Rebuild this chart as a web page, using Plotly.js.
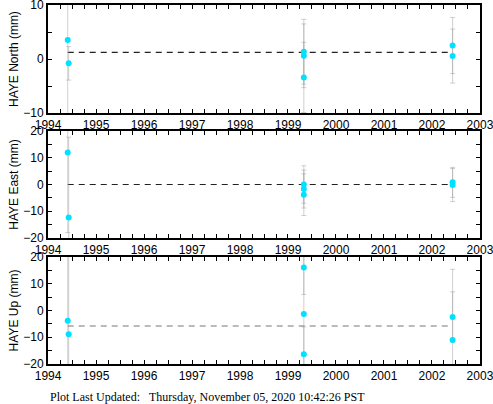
<!DOCTYPE html>
<html>
<head>
<meta charset="utf-8">
<script src="https://cdn.plot.ly/plotly-3.0.1.min.js"></script>
<style>
  html, body { margin: 0; padding: 0; background: #fff; }
  #chart { width: 493px; height: 404px; }
</style>
</head>
<body>
<div id="chart"></div>
<script>
// epochs in decimal years (one per observation)
const epochs = [1994.41, 1994.43, 1999.33, 1999.33, 1999.33, 2002.43, 2002.43];

const northVals = [3.5, -0.8, 1.35, 0.6, -3.4, 2.5, 0.55];
const northErr  = [16, 3.1, 6.0, 5.9, 6.5, 5.2, 5.0];
const eastVals  = [12.0, -12.3, 0.0, -1.7, -3.8, 0.8, -0.2];
const eastErr   = [30, 30, 7.0, 7.1, 7.8, 5.6, 6.2];
const upVals    = [-3.8, -8.9, 16.1, -1.3, -16.4, -2.4, -11.0];
const upErr     = [30, 30, 10.1, 30, 10.3, 9.4, 26.4];

// weighted mean of each component
const meanNorth = 1.24;
const meanEast = 0.0;
const meanUp = -5.8;
const meanSpan = [1994.41, 2002.43];

const components = ["North", "East", "Up"];
const yRanges = [[-10.001, 10.001], [-20.002, 20.002], [-20.002, 20.002]];
const yDomains = [[0.699, 1], [0.351, 0.649], [0, 0.298]];
const meanColors = ["#222", "#222", "#777"];

const axisFont = { family: "Liberation Sans, Arial, sans-serif", size: 12, color: "#000" };

const traces = [];
const layout = {
  width: 493,
  height: 404,
  margin: { l: 48, r: 13, t: 5, b: 40 },
  paper_bgcolor: "#fff",
  plot_bgcolor: "#fff",
  showlegend: false,
  font: axisFont,
  annotations: [{
    xref: "paper", yref: "paper", x: 0, y: -0.092,
    xanchor: "left", yanchor: "middle",
    text: "Plot Last Updated:\u00A0\u00A0\u00A0Thursday, November 05, 2020 10:42:26 PST",
    showarrow: false,
    font: { family: "Liberation Serif, Times New Roman, serif", size: 12, color: "#000" }
  }]
};

const series = [
  [northVals, northErr, meanNorth],
  [eastVals, eastErr, meanEast],
  [upVals, upErr, meanUp]
];

series.forEach(([vals, errs, mean], i) => {
  const n = i === 0 ? "" : String(i + 1);
  const xa = "x" + n, ya = "y" + n;

  traces.push({
    x: meanSpan,
    y: [mean, mean],
    xaxis: xa, yaxis: ya,
    type: "scatter", mode: "lines",
    line: { color: meanColors[i], width: 1.2, dash: "6px,5px" },
    hoverinfo: "skip"
  });
  traces.push({
    x: epochs,
    y: vals,
    xaxis: xa, yaxis: ya,
    type: "scatter", mode: "markers",
    marker: { color: "#00e1ff", size: 6 },
    error_y: { type: "data", array: errs, visible: true,
               color: "rgba(150,150,150,0.45)", thickness: 1, width: 2.5 }
  });

  layout["xaxis" + n] = {
    anchor: ya,
    range: [1993.999, 2003.001],
    dtick: 1, tick0: 1994,
    ticks: "inside", ticklen: 4, tickwidth: 1, tickcolor: "#000",
    minor: { dtick: 0.25, ticks: "inside", ticklen: 4, tickcolor: "#000" },
    showline: true, linecolor: "#000", linewidth: 2, mirror: "ticks",
    showgrid: false, zeroline: false,
    ticklabeloverflow: "allow",
    tickfont: axisFont
  };
  layout["yaxis" + n] = {
    domain: yDomains[i],
    anchor: xa,
    range: yRanges[i],
    dtick: 10,
    ticks: "inside", ticklen: 4, tickwidth: 1, tickcolor: "#000",
    minor: { dtick: 5, ticks: "inside", ticklen: 4, tickcolor: "#000" },
    showline: true, linecolor: "#000", linewidth: 2, mirror: "ticks",
    showgrid: false, zeroline: false,
    ticklabeloverflow: "allow",
    tickfont: axisFont,
    title: { text: "HAYE " + components[i] + " (mm)", font: axisFont, standoff: 2 }
  };
});

Plotly.newPlot("chart", traces, layout, { displayModeBar: false, staticPlot: true });
</script>
</body>
</html>
